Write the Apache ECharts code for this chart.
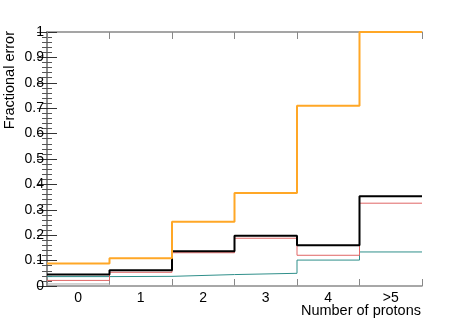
<!DOCTYPE html>
<html><head><meta charset="utf-8">
<script src="https://cdn.jsdelivr.net/npm/echarts@6/dist/echarts.min.js"></script>
<style>html,body{margin:0;padding:0;background:#fff}#c{width:469px;height:319px}</style>
</head><body><div id="c"></div>
<script>
const categories = ["0", "1", "2", "3", "4", ">5"];
const orangeVals = [0.089, 0.109, 0.253, 0.366, 0.71, 1.0];
const blackVals  = [0.045, 0.062, 0.137, 0.198, 0.160, 0.353];
const redVals    = [0.022, 0.054, 0.131, 0.188, 0.121, 0.326];
const tealVals   = [0.037, 0.038, 0.045, 0.050, 0.102, 0.134];
const greyVals   = [0.008, 0, 0, 0, 0, 0];
const yTicks = [0, 0.1, 0.2, 0.3, 0.4, 0.5, 0.6, 0.7, 0.8, 0.9, 1];

function stepData(vals) {
  const d = vals.map((v, i) => [i, v]);
  d.push([vals.length, vals[vals.length - 1]]);
  return d;
}
const font = 'Liberation Sans, Arial, sans-serif';
const axisGrey = '#888888';

const chart = echarts.init(document.getElementById('c'), null, {renderer: 'canvas'});
function ser(vals, color, width, z) {
  return {type: 'line', xAxisIndex: 0, yAxisIndex: 0, step: 'end', data: stepData(vals),
    symbol: 'none', lineStyle: {color: color, width: width}, z: z, animation: false, clip: false};
}
chart.setOption({
  animation: false,
  grid: {left: 47, top: 32, right: 47, bottom: 33},
  xAxis: [
    {type: 'value', min: 0, max: categories.length, interval: 1, position: 'bottom',
     axisLine: {lineStyle: {color: axisGrey, width: 1.5}},
     axisTick: {inside: true, length: 7, lineStyle: {color: axisGrey, width: 1}},
     axisLabel: {show: false}, splitLine: {show: false}},
    {type: 'category', data: categories, position: 'bottom', boundaryGap: true,
     axisLine: {show: false}, axisTick: {show: false},
     axisLabel: {color: '#000', fontFamily: font, fontSize: 14, margin: 5}},
    {type: 'value', min: 0, max: categories.length, interval: 1, position: 'top',
     axisLine: {lineStyle: {color: axisGrey, width: 1.5}},
     axisTick: {inside: true, length: 7, lineStyle: {color: axisGrey, width: 1}},
     axisLabel: {show: false}, splitLine: {show: false}}
  ],
  yAxis: [
    {type: 'value', min: 0, max: 1, interval: 0.1, position: 'left',
     axisLine: {show: true, lineStyle: {color: axisGrey, width: 1.5}},
     axisTick: {inside: true, length: 10, lineStyle: {color: '#333', width: 1}},
     minorTick: {show: true, splitNumber: 5, length: 5, lineStyle: {color: '#555', width: 1}},
     axisLabel: {color: '#000', fontFamily: font, fontSize: 14, margin: 3,
       formatter: v => { const t = yTicks.find(x => Math.abs(x - v) < 1e-6); return t === undefined ? '' : String(t); }},
     splitLine: {show: false}},
    {type: 'value', min: 0, max: 1, interval: 0.1, position: 'right',
     axisLine: {show: true, lineStyle: {color: axisGrey, width: 1.5}},
     axisTick: {inside: true, length: 10, lineStyle: {color: '#333', width: 1}},
     minorTick: {show: true, splitNumber: 5, length: 5, lineStyle: {color: '#555', width: 1}},
     axisLabel: {show: false}, splitLine: {show: false}}
  ],
  series: [
    ser(greyVals, '#aaaaaa', 1, 1),
    ser(tealVals, '#2f8f8a', 1, 2),
    ser(redVals, '#e06666', 1, 3),
    ser(blackVals, '#000000', 2, 4),
    ser(orangeVals, '#ffa726', 2, 5)
  ],
  graphic: [
    {type: 'text', x: 10, y: 31, rotation: Math.PI / 2,
     style: {text: 'Fractional error', fill: '#000', font: '14.5px ' + font, align: 'right', verticalAlign: 'middle'}},
    {type: 'text', x: 421, y: 311,
     style: {text: 'Number of protons', fill: '#000', font: '14.5px ' + font, align: 'right', verticalAlign: 'middle'}}
  ]
});
</script></body></html>
